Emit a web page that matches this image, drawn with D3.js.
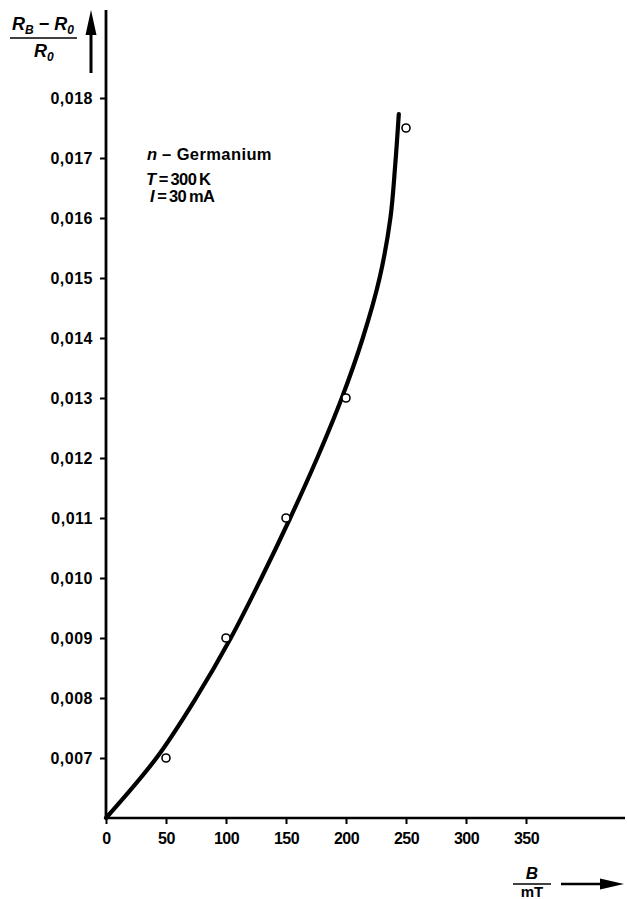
<!DOCTYPE html>
<html>
<head>
<meta charset="utf-8">
<script src="https://cdn.jsdelivr.net/npm/d3@7"></script>
<style>
  html, body { margin: 0; padding: 0; background: #fff; }
  svg { display: block; }
  text { font-family: "Liberation Sans", Arial, Helvetica, sans-serif; fill: #000; }
</style>
</head>
<body>
<svg id="chart" width="627" height="899"></svg>
<script>
// Measured points: magnetic field B (mT) vs. relative resistance change
const measB = [50, 100, 150, 200, 250];
const measR = [0.007, 0.009, 0.011, 0.013, 0.0175];

// Hand-drawn fit curve through the measurements
const fitB = [0, 42, 75, 104, 129.5, 153.5, 176, 196.5, 214, 228, 237, 241, 244];
const fitR = [0.006, 0.007, 0.008, 0.009, 0.010, 0.011, 0.012, 0.013, 0.014, 0.015, 0.016, 0.01688, 0.01773];

// Tick labels
const xTicks = [0, 50, 100, 150, 200, 250, 300, 350];
const yTicks = [0.007, 0.008, 0.009, 0.010, 0.011, 0.012, 0.013, 0.014, 0.015, 0.016, 0.017, 0.018];

const svg = d3.select("#chart");

const x = d3.scaleLinear().domain([0, 350]).range([106, 526]);
const y = d3.scaleLinear().domain([0.006, 0.018]).range([818, 98]);

const fmtY = v => d3.format(".3f")(v).replace(".", ",");

// Axes
const xAxis = d3.axisBottom(x).tickValues(xTicks).tickSize(6).tickSizeOuter(0)
  .tickFormat(d => String(d));
const gx = svg.append("g").attr("transform", "translate(0,818)").call(xAxis);
gx.select(".domain").remove();
gx.selectAll(".tick line").attr("stroke", "#000").attr("stroke-width", 2);
gx.selectAll(".tick text")
  .attr("y", 15).attr("dy", "0.71em")
  .attr("font-size", 16).attr("font-weight", "bold")
  .attr("letter-spacing", "-0.5px");

const yAxis = d3.axisLeft(y).tickValues(yTicks).tickSize(6).tickSizeOuter(0).tickFormat(fmtY);
const gy = svg.append("g").attr("transform", "translate(106,0)").call(yAxis);
gy.select(".domain").remove();
gy.selectAll(".tick line").attr("stroke", "#000").attr("stroke-width", 2);
gy.selectAll(".tick text")
  .attr("x", -13)
  .attr("font-size", 16).attr("font-weight", "bold")
  .attr("letter-spacing", "0.5px");

// Axis lines
svg.append("line").attr("x1", 106).attr("x2", 106).attr("y1", 10).attr("y2", 819)
  .attr("stroke", "#000").attr("stroke-width", 2.8);
svg.append("line").attr("x1", 105).attr("x2", 625).attr("y1", 818).attr("y2", 818)
  .attr("stroke", "#000").attr("stroke-width", 2.6);

// Y quantity arrow
svg.append("line").attr("x1", 91).attr("x2", 91).attr("y1", 28).attr("y2", 73)
  .attr("stroke", "#000").attr("stroke-width", 3);
svg.append("path").attr("d", "M91,10 L85.5,35 L96.5,35 Z").attr("fill", "#000");

// Y quantity label: (R_B - R_0) / R_0
const yl = svg.append("g").attr("font-style", "italic").attr("font-weight", "bold").attr("font-size", 18);
const num = yl.append("text").attr("x", 12).attr("y", 30);
num.append("tspan").text("R");
num.append("tspan").attr("font-size", 12).attr("dy", 4).text("B");
num.append("tspan").attr("dy", -4).attr("font-style", "normal").text(" \u2212 ");
num.append("tspan").text("R");
num.append("tspan").attr("font-size", 12).attr("dy", 4).text("0");
svg.append("line").attr("x1", 10).attr("x2", 77).attr("y1", 38).attr("y2", 38)
  .attr("stroke", "#000").attr("stroke-width", 1.5);
const den = yl.append("text").attr("x", 34).attr("y", 57);
den.append("tspan").text("R");
den.append("tspan").attr("font-size", 12).attr("dy", 4).text("0");

// X quantity label: B / mT with arrow
svg.append("text").attr("x", 532).attr("y", 879).attr("text-anchor", "middle")
  .attr("font-style", "italic").attr("font-weight", "bold").attr("font-size", 17).text("B");
svg.append("line").attr("x1", 513).attr("x2", 551).attr("y1", 884).attr("y2", 884)
  .attr("stroke", "#000").attr("stroke-width", 1.5);
svg.append("text").attr("x", 532).attr("y", 897).attr("text-anchor", "middle")
  .attr("font-weight", "bold").attr("font-size", 15).text("mT");
svg.append("line").attr("x1", 561).attr("x2", 605).attr("y1", 884).attr("y2", 884)
  .attr("stroke", "#000").attr("stroke-width", 2.5);
svg.append("path").attr("d", "M624,884 L600,878.5 L600,889.5 Z").attr("fill", "#000");

// Annotation block
const ann = svg.append("g").attr("font-size", 16.5).attr("font-weight", "bold");
const t1 = ann.append("text").attr("x", 147).attr("y", 160);
t1.append("tspan").attr("font-style", "italic").text("n");
t1.append("tspan").attr("letter-spacing", "0.4px").text(" \u2013 Germanium");
const t2 = ann.append("text").attr("x", 146).attr("y", 185);
t2.append("tspan").attr("font-style", "italic").text("T");
t2.append("tspan").attr("letter-spacing", "-0.6px").text("\u2009=\u2009300\u2009K");
const t3 = ann.append("text").attr("x", 150).attr("y", 202);
t3.append("tspan").attr("font-style", "italic").text("I");
t3.append("tspan").attr("letter-spacing", "-0.6px").text("\u2009=\u200930\u2009mA");

// Fit curve
const fitData = fitB.map((b, i) => [b, fitR[i]]);
svg.append("path")
  .datum(fitData)
  .attr("fill", "none")
  .attr("stroke", "#000")
  .attr("stroke-width", 4.2)
  .attr("stroke-linecap", "round")
  .attr("d", d3.line().x(d => x(d[0])).y(d => y(d[1])).curve(d3.curveCatmullRom.alpha(0.5)));

// Measured points
svg.append("g").selectAll("circle")
  .data(measB.map((b, i) => [b, measR[i]]))
  .join("circle")
  .attr("cx", d => x(d[0]))
  .attr("cy", d => y(d[1]))
  .attr("r", 4)
  .attr("fill", "#fff")
  .attr("stroke", "#000")
  .attr("stroke-width", 1.6);
</script>
</body>
</html>
